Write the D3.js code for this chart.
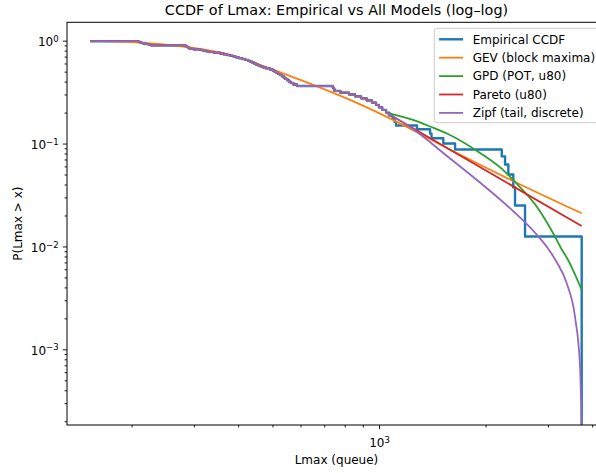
<!DOCTYPE html>
<html>
<head>
<meta charset="utf-8">
<script src="https://cdn.jsdelivr.net/npm/d3@7"></script>
<style>
  body { margin: 0; background: #fff; }
  svg { font-family: "DejaVu Sans", sans-serif; display: block; }
</style>
</head>
<body>
<div id="chart"></div>
<script>
// sorted Lmax sample (n = 80)
const lmaxSorted = [
  153, 209, 211, 213, 216, 220, 224, 227, 284, 286,
  288, 290, 291, 299, 313, 319, 325, 331, 342, 356,
  364, 372, 380, 388, 395, 402, 410, 419, 427, 432,
  438, 444, 449, 456, 462, 469, 480, 492, 501, 507,
  513, 519, 526, 532, 538, 544, 551, 557, 563, 573,
  587, 740, 745, 749, 778, 823, 856, 890, 923, 955,
  981, 999, 1021, 1047, 1069, 1092, 1106, 1117, 1280, 1394,
  1407, 1519, 1640, 2222, 2270, 2319, 2395, 2422, 2585, 3737
];
const thresholdIndex = 63; // u80, ccdf = 0.2

// model curves (x, P(Lmax > x))
const gevX = [153, 206, 283, 387, 452, 515, 668, 828, 1095, 1556, 2391, 3737];
const gevP = [0.997, 0.964, 0.872, 0.713, 0.596, 0.505, 0.360, 0.266, 0.170, 0.0906, 0.0433, 0.0210];

const gpdX = [1047, 1247, 1394, 1556, 1929, 2240, 2407, 2795, 3101, 3288, 3420, 3532, 3737];
const gpdP = [0.2, 0.1695, 0.1465, 0.1253, 0.0810, 0.0554, 0.0433, 0.0242, 0.01352, 0.00924, 0.00739, 0.00590, 0.00378];

const paretoX = [1047, 1587, 2197, 3737];
const paretoP = [0.2, 0.0870, 0.0455, 0.0158];

const zipfX = [1047, 1247, 1556, 1929, 2391, 2795, 3002, 3162, 3396, 3579, 3698, 3722, 3729, 3737];
const zipfP = [0.2, 0.1385, 0.0757, 0.0418, 0.02212, 0.01293, 0.00955, 0.00722, 0.00432, 0.00206, 0.000674, 0.000322, 0.000277, 0];

const xMajorTicks = [1000];
const yMajorTicks = [1e-3, 1e-2, 1e-1, 1];
const legendLabels = ["Empirical CCDF", "GEV (block maxima)", "GPD (POT, u80)", "Pareto (u80)", "Zipf (tail, discrete)"];
const colors = ["#1f77b4", "#ff7f0e", "#2ca02c", "#d62728", "#9467bd"];

const margin = { top: 22.3, left: 67 };
const innerW = 539, innerH = 402.7;

const svg = d3.select('#chart').append('svg')
  .attr('width', 596).attr('height', 473)
  .style('overflow', 'hidden');

const g = svg.append('g').attr('transform', `translate(${margin.left},${margin.top})`);

const x = d3.scaleLog().domain([131.4, 4377]).range([0, innerW]);
const y = d3.scaleLog().domain([1.84e-4, 1.508]).range([innerH, 0]);
const py = v => v > 0 ? y(v) : innerH + 20; // zero gets clipped at the bottom

g.append('clipPath').attr('id', 'plot-clip')
  .append('rect').attr('width', innerW).attr('height', innerH);

// build series
const n = lmaxSorted.length;
const empirical = lmaxSorted.map((v, i) => ({ x: v, p: (n - 1 - i) / n }));
const body = empirical.slice(0, thresholdIndex + 1);
const zip = (xs, ps) => xs.map((v, i) => ({ x: v, p: ps[i] }));

const stepLine = d3.line().x(d => x(d.x)).y(d => py(d.p)).curve(d3.curveStepAfter);
const smoothLine = d3.line().x(d => x(d.x)).y(d => py(d.p)).curve(d3.curveMonotoneX);

const plot = g.append('g').attr('clip-path', 'url(#plot-clip)')
  .attr('fill', 'none').attr('stroke-linejoin', 'round');

plot.append('path').attr('d', stepLine(empirical))
  .attr('stroke', colors[0]).attr('stroke-width', 2.4);

plot.append('path').attr('d', smoothLine(zip(gevX, gevP)))
  .attr('stroke', colors[1]).attr('stroke-width', 1.8);

// spliced models: empirical body below u80, model tail above
[[gpdX, gpdP], [paretoX, paretoP], [zipfX, zipfP]].forEach(([xs, ps], k) => {
  const col = colors[k + 2];
  plot.append('path').attr('d', stepLine(body)).attr('stroke', col).attr('stroke-width', 1.8);
  plot.append('path').attr('d', smoothLine(zip(xs, ps))).attr('stroke', col).attr('stroke-width', 1.8);
});

// minor ticks
const yMinor = [];
for (let e = -4; e <= 0; e++) for (let m = 2; m <= 9; m++) {
  const v = m * Math.pow(10, e);
  if (v >= y.domain()[0] && v <= y.domain()[1]) yMinor.push(v);
}
const xMinor = [];
for (let e = 2; e <= 3; e++) for (let m = 2; m <= 9; m++) {
  const v = m * Math.pow(10, e);
  if (v >= x.domain()[0] && v <= x.domain()[1]) xMinor.push(v);
}

function supLabel(sel, exp) {
  sel.text(null);
  sel.append('tspan').text('10');
  sel.append('tspan').attr('dy', '-0.5em').attr('font-size', '8.5px')
    .text(exp < 0 ? '\u2212' + (-exp) : String(exp));
}

const xAxis = g.append('g').attr('transform', `translate(0,${innerH})`)
  .call(d3.axisBottom(x).tickValues(xMajorTicks).tickSize(4.2).tickPadding(4.2).tickFormat(''));
xAxis.selectAll('.tick text').attr('dy', '1.15em')
  .each(function (d) { supLabel(d3.select(this), Math.round(Math.log10(d))); });
g.append('g').attr('transform', `translate(0,${innerH})`)
  .call(d3.axisBottom(x).tickValues(xMinor).tickSize(2.4).tickFormat(''));

const yAxis = g.append('g')
  .call(d3.axisLeft(y).tickValues(yMajorTicks).tickSize(4.2).tickPadding(4.2).tickFormat(''));
yAxis.selectAll('.tick text').attr('dy', '0.4em')
  .each(function (d) { supLabel(d3.select(this), Math.round(Math.log10(d))); });
g.append('g')
  .call(d3.axisLeft(y).tickValues(yMinor).tickSize(2.4).tickFormat(''));

g.selectAll('.domain').remove();
g.selectAll('.tick line').attr('stroke', '#000').attr('stroke-width', 0.9);
g.selectAll('.tick text').attr('font-size', '12px').attr('fill', '#000')
  .attr('font-family', '"DejaVu Sans", sans-serif');

// spines
g.append('rect').attr('width', innerW).attr('height', innerH)
  .attr('fill', 'none').attr('stroke', '#000').attr('stroke-width', 1);

// title and axis labels
svg.append('text').attr('x', margin.left + innerW / 2).attr('y', 15)
  .attr('text-anchor', 'middle').attr('font-size', '14.4px')
  .text('CCDF of Lmax: Empirical vs All Models (log\u2013log)');

svg.append('text').attr('x', margin.left + innerW / 2).attr('y', 464)
  .attr('text-anchor', 'middle').attr('font-size', '12px')
  .text('Lmax (queue)');

svg.append('text').attr('transform', `translate(22,${margin.top + innerH / 2}) rotate(-90)`)
  .attr('text-anchor', 'middle').attr('font-size', '12px')
  .text('P(Lmax > x)');

// legend
const legend = svg.append('g').attr('transform', 'translate(434.3,28.3)');
legend.append('rect').attr('width', 170).attr('height', 94.4).attr('rx', 2.4)
  .attr('fill', '#fff').attr('fill-opacity', 0.8)
  .attr('stroke', '#cccccc').attr('stroke-width', 1);
legendLabels.forEach((label, i) => {
  const cy = 11 + i * 18.4;
  legend.append('line').attr('x1', 4.8).attr('x2', 28.8).attr('y1', cy).attr('y2', cy)
    .attr('stroke', colors[i]).attr('stroke-width', i === 0 ? 2.4 : 1.8);
  legend.append('text').attr('x', 38.4).attr('y', cy).attr('dy', '0.36em')
    .attr('font-size', '12px').text(label);
});
</script>
</body>
</html>
